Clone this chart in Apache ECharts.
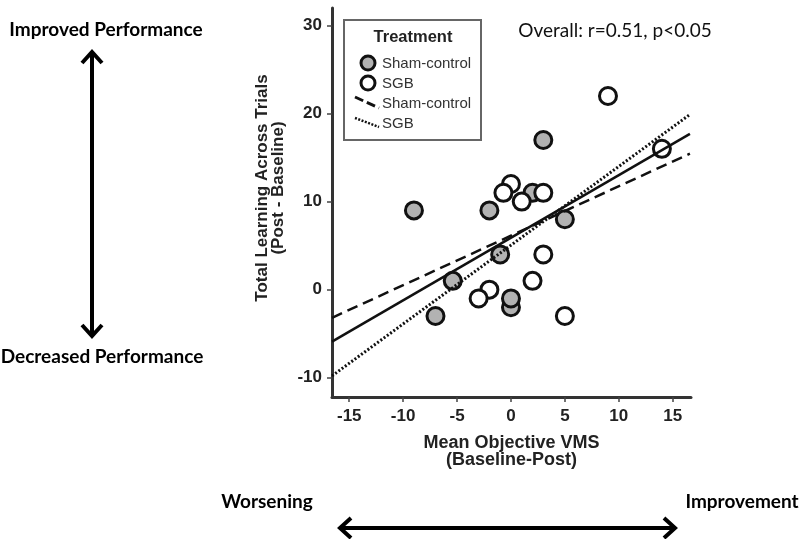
<!DOCTYPE html>
<html><head><meta charset="utf-8">
<script src="https://cdn.jsdelivr.net/npm/echarts@6/dist/echarts.min.js"></script>
<style>html,body{margin:0;padding:0;background:#fff}#c{width:800px;height:539px}</style>
</head><body><div id="c"></div>
<script>
// Data
const shamX = [-9, -2, 3, 2, 5, -1, -5.4, -7, 0, 0];
const shamY = [9, 9, 17, 11, 8, 4, 1, -3, -2, -1];
const sgbX = [9, 14, 0, -0.7, 1, 3, 3, 2, -2, -3, 5];
const sgbY = [22, 16, 12, 11, 10, 11, 4, 1, 0, -1, -3];
const fitX = [-16.6, 16.6];
const overallFitY = [-5.9, 17.7];
const shamFitY = [-3.2, 15.45];
const sgbFitY = [-9.8, 19.9];
const xTicks = [-15, -10, -5, 0, 5, 10, 15];
const yTicks = [-10, 0, 10, 20, 30];

const zip = (a, b) => a.map((v, i) => [v, b[i]]);
const chart = echarts.init(document.getElementById('c'));
const AX = '#333';
const FF = '"Liberation Sans", Arial, sans-serif';
const lblFont = {fontFamily: FF, fontWeight: 'bold', fontSize: 17, color: '#222'};
const annFont = 'bold 19px Lato, "Open Sans", sans-serif';

chart.setOption({
  animation: false,
  backgroundColor: '#fff',
  grid: {left: 332, top: 8, width: 359, height: 389},
  xAxis: {
    type: 'value', min: -16.6, max: 16.7,
    splitLine: {show: false},
    axisLine: {onZero: false, lineStyle: {color: AX, width: 3}},
    axisTick: {customValues: xTicks, length: 5, lineStyle: {color: '#444', width: 1.5}},
    axisLabel: Object.assign({customValues: xTicks, margin: 11}, lblFont),
    name: 'Mean Objective VMS\n(Baseline-Post)', nameLocation: 'middle', nameGap: 38,
    nameTextStyle: {fontFamily: FF, fontWeight: 'bold', fontSize: 18, color: '#222', lineHeight: 17}
  },
  yAxis: {
    type: 'value', min: -12.2, max: 32,
    splitLine: {show: false},
    axisLine: {onZero: false, lineStyle: {color: AX, width: 3}},
    axisTick: {customValues: yTicks, length: 5, lineStyle: {color: '#444', width: 1.5}},
    axisLabel: Object.assign({customValues: yTicks, margin: 10}, lblFont)
  },
  series: [
    {type: 'scatter', name: 'Sham-control', data: zip(shamX, shamY), symbol: 'circle', symbolSize: 17,
     itemStyle: {color: '#b2b2b2', borderColor: '#111', borderWidth: 3, opacity: 1}, z: 2},
    {type: 'scatter', name: 'SGB', data: zip(sgbX, sgbY), symbol: 'circle', symbolSize: 17,
     itemStyle: {color: '#fff', borderColor: '#111', borderWidth: 3, opacity: 1}, z: 2},
    {type: 'line', name: 'Overall', data: zip(fitX, overallFitY), showSymbol: false, symbol: 'none',
     lineStyle: {color: '#111', width: 2.5}, z: 3},
    {type: 'line', name: 'Sham fit', data: zip(fitX, shamFitY), showSymbol: false, symbol: 'none',
     lineStyle: {color: '#111', width: 2.5, type: [11, 6]}, z: 3},
    {type: 'line', name: 'SGB fit', data: zip(fitX, sgbFitY), showSymbol: false, symbol: 'none',
     lineStyle: {color: '#111', width: 3, type: [2, 2]}, z: 3}
  ],
  graphic: [
    // y axis title
    {type: 'text', x: 270, y: 188, rotation: Math.PI / 2,
     style: {text: 'Total Learning Across Trials\n(Post - Baseline)', font: 'bold 17px ' + FF, lineHeight: 16, fill: '#222', align: 'center', verticalAlign: 'middle'}},
    // legend box
    {type: 'rect', shape: {x: 344, y: 20, width: 137, height: 120}, style: {fill: '#fff', stroke: '#666', lineWidth: 2}, z: 10},
    {type: 'text', x: 413, y: 37, style: {text: 'Treatment', font: 'bold 16.5px ' + FF, fill: '#222', align: 'center', verticalAlign: 'middle'}, z: 11},
    {type: 'circle', shape: {cx: 368, cy: 63, r: 7}, style: {fill: '#b2b2b2', stroke: '#111', lineWidth: 3}, z: 11},
    {type: 'circle', shape: {cx: 368, cy: 83, r: 7}, style: {fill: '#fff', stroke: '#111', lineWidth: 3}, z: 11},
    {type: 'line', shape: {x1: 355, y1: 97, x2: 379, y2: 108}, style: {stroke: '#111', lineWidth: 3, lineDash: [9, 4]}, z: 11},
    {type: 'line', shape: {x1: 355, y1: 118, x2: 379, y2: 127}, style: {stroke: '#111', lineWidth: 2.5, lineDash: [2, 1.5]}, z: 11},
    {type: 'text', x: 382, y: 64, style: {text: 'Sham-control', font: '15px ' + FF, fill: '#333', verticalAlign: 'middle'}, z: 11},
    {type: 'text', x: 382, y: 84, style: {text: 'SGB', font: '15px ' + FF, fill: '#333', verticalAlign: 'middle'}, z: 11},
    {type: 'text', x: 382, y: 104, style: {text: 'Sham-control', font: '15px ' + FF, fill: '#333', verticalAlign: 'middle'}, z: 11},
    {type: 'text', x: 382, y: 124, style: {text: 'SGB', font: '15px ' + FF, fill: '#333', verticalAlign: 'middle'}, z: 11},
    // overall stat
    {type: 'text', x: 615, y: 31, style: {text: 'Overall: r=0.51, p<0.05', font: '19px Lato, "Open Sans", sans-serif', fill: '#111', align: 'center', verticalAlign: 'middle'}, z: 11},
    // side annotations
    {type: 'text', x: 106, y: 30, style: {text: 'Improved Performance', font: annFont, fill: '#000', align: 'center', verticalAlign: 'middle'}},
    {type: 'text', x: 102, y: 357, style: {text: 'Decreased Performance', font: annFont, fill: '#000', align: 'center', verticalAlign: 'middle'}},
    {type: 'text', x: 267, y: 502, style: {text: 'Worsening', font: annFont, fill: '#000', align: 'center', verticalAlign: 'middle'}},
    {type: 'text', x: 742, y: 502, style: {text: 'Improvement', font: annFont, fill: '#000', align: 'center', verticalAlign: 'middle'}},
    // vertical arrow
    {type: 'line', shape: {x1: 92, y1: 53, x2: 92, y2: 334}, style: {stroke: '#000', lineWidth: 4}},
    {type: 'polyline', shape: {points: [[82, 63], [92, 52], [102, 63]]}, style: {stroke: '#000', lineWidth: 4, fill: null, lineJoin: 'miter'}},
    {type: 'polyline', shape: {points: [[82, 325], [92, 336], [102, 325]]}, style: {stroke: '#000', lineWidth: 4, fill: null, lineJoin: 'miter'}},
    // horizontal arrow
    {type: 'line', shape: {x1: 341, y1: 528, x2: 674, y2: 528}, style: {stroke: '#000', lineWidth: 4}},
    {type: 'polyline', shape: {points: [[351, 518], [340, 528], [351, 538]]}, style: {stroke: '#000', lineWidth: 4, fill: null, lineJoin: 'miter'}},
    {type: 'polyline', shape: {points: [[664, 518], [675, 528], [664, 538]]}, style: {stroke: '#000', lineWidth: 4, fill: null, lineJoin: 'miter'}}
  ]
});
</script>
</body></html>
